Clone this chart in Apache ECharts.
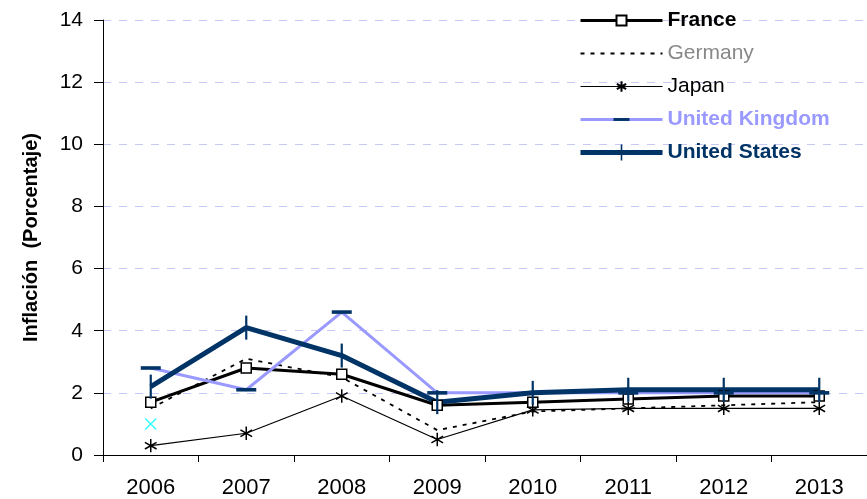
<!DOCTYPE html>
<html>
<head>
<meta charset="utf-8">
<script src="https://cdn.jsdelivr.net/npm/echarts@6/dist/echarts.min.js"></script>
<style>
  html, body { margin: 0; padding: 0; background: #fff; }
  #chart { width: 867px; height: 499px; }
</style>
</head>
<body>
<div id="chart"></div>
<script>
var years = ["2006", "2007", "2008", "2009", "2010", "2011", "2012", "2013"];
var france = [1.7, 2.8, 2.6, 1.6, 1.7, 1.8, 1.9, 1.9];
var germany = [1.5, 3.1, 2.5, 0.8, 1.4, 1.5, 1.6, 1.7];
var japan = [0.3, 0.7, 1.9, 0.5, 1.45, 1.5, 1.5, 1.5];
var uk = [2.8, 2.1, 4.6, 2.0, 2.0, 2.0, 2.0, 2.0];
var us = [2.2, 4.1, 3.2, 1.7, 2.0, 2.1, 2.1, 2.1];
var stray = [1.0, null, null, null, null, null, null, null];
var yTicks = [0, 2, 4, 6, 8, 10, 12, 14];

var FONT = "Liberation Sans, Arial, sans-serif";
// the leading moveTo's only pad the bounding box, so the legend icon keeps the shape
var squareMark = "path://M-8,-8M8,8M-5,-5L5,-5L5,5L-5,5Z";
var asterisk = "path://M-12,-12M12,12M0,-8L0,8M-7,-4L7,4M-7,4L7,-4";
var dashMark = "path://M-10,-10M10,10M-10,-1.8L10,-1.8L10,1.8L-10,1.8Z";
var tickMark = "path://M-10,-11M10,11M-1,-11L1,-11L1,11L-1,11Z";
var noMark = "path://M-1,-1M1,1";
var cross = "path://M-10,-10L10,10M-10,10L10,-10";

var chart = echarts.init(document.getElementById("chart"));

chart.setOption({
    animation: false,
    backgroundColor: "#fff",
    grid: { left: 103, top: 20, width: 775, height: 436 },
    legend: {
        orient: "vertical",
        left: 573, top: 5,
        itemWidth: 82, itemHeight: 20, itemGap: 12,
        textStyle: { fontFamily: FONT, fontSize: 21 },
        data: [
            { name: "France", lineStyle: { width: 3 }, textStyle: { fontWeight: "bold", color: "#000" } },
            { name: "Germany", lineStyle: { width: 1.8 }, textStyle: { color: "#888" } },
            { name: "Japan", lineStyle: { width: 1.2 }, textStyle: { color: "#000" } },
            { name: "United Kingdom", lineStyle: { width: 3 }, textStyle: { fontWeight: "bold", color: "#9999ff" } },
            { name: "United States", lineStyle: { width: 5 }, textStyle: { fontWeight: "bold", color: "#003366" } }
        ]
    },
    xAxis: {
        type: "category",
        data: years,
        boundaryGap: true,
        axisLine: { lineStyle: { color: "#000", width: 1 } },
        axisTick: { show: true, length: 7, inside: false, lineStyle: { color: "#000" } },
        axisLabel: { fontFamily: FONT, fontSize: 22, color: "#000", margin: 22 },
        splitLine: { show: false }
    },
    yAxis: {
        type: "value",
        min: 0, max: 14, interval: 2,
        name: "Inflación  (Porcentaje)",
        nameLocation: "middle",
        nameGap: 62,
        nameRotate: 90,
        nameTextStyle: { fontFamily: FONT, fontSize: 20, fontWeight: "bold", color: "#000" },
        axisLine: { show: true, lineStyle: { color: "#000", width: 1 } },
        axisTick: { show: true, length: 9, lineStyle: { color: "#000" } },
        axisLabel: {
            fontFamily: FONT, fontSize: 21, color: "#000", margin: 20,
            formatter: function (v) { return yTicks.indexOf(v) >= 0 ? String(v) : ""; }
        },
        splitLine: { show: true, lineStyle: { color: "#c8c8f4", type: [8, 8], width: 1 } }
    },
    series: [
        {
            name: "France", type: "line", data: france,
            lineStyle: { color: "#000", width: 3 },
            symbol: squareMark, symbolSize: 16,
            itemStyle: { color: "#fff", borderColor: "#000", borderWidth: 1.5 }
        },
        {
            name: "Germany", type: "line", data: germany,
            lineStyle: { color: "#000", width: 1.8, type: [4, 6] },
            itemStyle: { color: "#000" },
            showSymbol: false, symbol: noMark
        },
        {
            name: "Japan", type: "line", data: japan,
            lineStyle: { color: "#000", width: 1.2 },
            symbol: asterisk, symbolSize: 20,
            itemStyle: { color: "#000", borderColor: "#000", borderWidth: 1.5 }
        },
        {
            name: "United Kingdom", type: "line", data: uk,
            lineStyle: { color: "#9999ff", width: 3 },
            symbol: dashMark, symbolSize: 20,
            itemStyle: { color: "#003366", borderWidth: 0 }
        },
        {
            name: "United States", type: "line", data: us,
            lineStyle: { color: "#003366", width: 5 },
            symbol: tickMark, symbolSize: [22, 24],
            itemStyle: { color: "#003366", borderWidth: 0 }
        },
        {
            name: "stray", type: "scatter", data: stray,
            symbol: cross, symbolSize: 11,
            itemStyle: { color: "#00ffff", borderColor: "#00ffff", borderWidth: 1.5 }
        }
    ]
});
</script>
</body>
</html>
